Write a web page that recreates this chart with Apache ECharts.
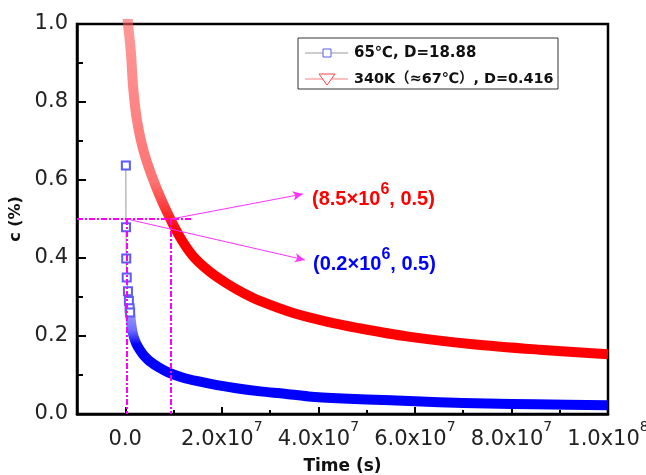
<!DOCTYPE html>
<html><head><meta charset="utf-8">
<script src="https://cdn.jsdelivr.net/npm/echarts@6/dist/echarts.min.js"></script>
<style>html,body{margin:0;padding:0;background:#fff}#c{width:646px;height:475px}</style>
</head><body><div id="c"></div>
<script>
// ---- data ----
const seriesNames = ['65℃, D=18.88', '340K（≈67℃）, D=0.416'];
// 65 ℃ : first discrete points (squares)
const blueTimeA = [0.12e6, 0.15e6, 0.2e6, 0.3e6, 0.55e6, 0.75e6, 0.9e6, 1.0e6];
const blueConcA = [0.637, 0.479, 0.399, 0.350, 0.315, 0.290, 0.271, 0.260];
// 65 ℃ : dense part (overlapping squares form a band)
const blueTimeB = [1.0e6, 1.3e6, 1.7e6, 2.3e6, 3.0e6, 4.0e6, 5.0e6, 7.0e6, 9.0e6, 12e6, 15e6, 19e6, 23e6, 28e6, 33e6, 38e6, 45e6, 55e6, 65e6, 75e6, 85e6, 100e6];
const blueConcB = [0.260, 0.225, 0.200, 0.180, 0.165, 0.148, 0.136, 0.119, 0.106, 0.093, 0.084, 0.074, 0.066, 0.058, 0.052, 0.045, 0.040, 0.035, 0.030, 0.027, 0.025, 0.0225];
// 340 K
const redTime = [0.35e6, 0.58e6, 1.18e6, 1.62e6, 2.41e6, 3.93e6, 6.34e6, 9.1e6, 11.5e6, 14.1e6, 17.5e6, 21.0e6, 24.5e6, 27.9e6, 34.8e6, 41.7e6, 48.0e6, 58.3e6, 72.0e6, 85.8e6, 100e6];
const redConc = [1.04, 1.0, 0.925, 0.839, 0.754, 0.668, 0.583, 0.506, 0.450, 0.404, 0.365, 0.335, 0.310, 0.290, 0.259, 0.237, 0.221, 0.199, 0.179, 0.165, 0.153];
// annotation points
const halfConc = 0.5;
const blueHalfTime = 0.3e6;
const redHalfTime = 9.5e6;
const hLineEnd = 13.8e6;
const redLabelAnchor = [36.8e6, 0.564];
const blueLabelAnchor = [37.2e6, 0.395];
const redLabel = ['(8.5×10', '6', ', 0.5)'];
const blueLabel = ['(0.2×10', '6', ', 0.5)'];
// ticks
const xTickValues = [0, 2e7, 4e7, 6e7, 8e7, 1e8];
const xTickMant = ['0.0', '2.0x10', '4.0x10', '6.0x10', '8.0x10', '1.0x10'];
const xTickExp = ['', '7', '7', '7', '7', '8'];
const xMinorTicks = [1e7, 3e7, 5e7, 7e7, 9e7];

const zip = (a, b) => a.map((v, i) => [v, b[i]]);
const FT = '"DejaVu Sans", "Noto Sans CJK SC", sans-serif';
const FA = '"Liberation Sans", Arial, "Noto Sans CJK SC", sans-serif';

const chart = echarts.init(document.getElementById('c'), null, {renderer: 'canvas'});
const dash = {color: '#ff00ff', width: 2, type: [6, 2, 2, 2]};
const arr = {color: '#ff33ff', width: 1, type: 'solid'};

chart.setOption({
  animation: false,
  backgroundColor: '#fff',
  grid: {left: 77, right: 38, top: 24, bottom: 61, containLabel: false, outerBoundsMode: 'none',
         show: true, borderColor: '#000', borderWidth: 2.5, backgroundColor: 'transparent'},
  xAxis: [{
    type: 'value', min: -1e7, max: 1e8, position: 'bottom',
    axisLine: {onZero: false, lineStyle: {color: '#000', width: 2.5}},
    splitLine: {show: false},
    axisTick: {inside: true, length: 7, customValues: xTickValues, lineStyle: {color: '#000', width: 2}},
    axisLabel: {
      customValues: xTickValues, margin: 6, color: '#222', hideOverlap: false,
      formatter: function (v) {
        let i = xTickValues.findIndex(t => Math.abs(t - v) < 1);
        if (i < 0) return '';
        return '{n|' + xTickMant[i] + '}' + (xTickExp[i] ? '{s|' + xTickExp[i] + '}' : '');
      },
      rich: {
        n: {fontFamily: FT, fontSize: 21, lineHeight: 30, verticalAlign: 'bottom', color: '#222'},
        s: {fontFamily: FT, fontSize: 14, lineHeight: 14, verticalAlign: 'top', color: '#222'}
      }
    },
    name: 'Time (s)', nameLocation: 'middle', nameGap: 44,
    nameTextStyle: {fontFamily: FT, fontWeight: 'bold', fontSize: 17, color: '#111'}
  }, {
    type: 'value', min: -1e7, max: 1e8, position: 'bottom', offset: 0,
    axisLine: {show: false, onZero: false}, splitLine: {show: false}, axisLabel: {show: false},
    axisTick: {show: true, inside: true, length: 4, customValues: xMinorTicks, lineStyle: {color: '#000', width: 2}}
  }],
  yAxis: {
    type: 'value', min: 0, max: 1, interval: 0.2,
    axisLine: {show: true, onZero: false, lineStyle: {color: '#000', width: 2.5}},
    splitLine: {show: false},
    axisTick: {inside: true, length: 9, lineStyle: {color: '#000', width: 2}},
    minorTick: {show: true, splitNumber: 2, length: 6, lineStyle: {color: '#000', width: 2}},
    axisLabel: {fontFamily: FT, fontSize: 21, color: '#222', margin: 9, formatter: v => v.toFixed(1)},
    name: 'c (%)', nameLocation: 'middle', nameGap: 52,
    nameTextStyle: {fontFamily: FT, fontWeight: 'bold', fontSize: 16, color: '#111'}
  },
  series: [
    {
      name: seriesNames[1], type: 'line', xAxisIndex: 0, data: zip(redTime, redConc),
      smooth: 0.3, showSymbol: false, symbol: 'none', clip: true, z: 3,
      lineStyle: {width: 10, cap: 'butt', join: 'round', color: new echarts.graphic.LinearGradient(0, 0, 0, 1, [
        {offset: 0, color: 'rgba(255,90,90,0.6)'},
        {offset: 0.5, color: 'rgba(255,60,60,0.72)'},
        {offset: 0.64, color: '#ff0000'},
        {offset: 1, color: '#ff0000'}
      ])}
    },
    {
      name: seriesNames[0] + ' band', type: 'line', xAxisIndex: 0, data: zip(blueTimeB, blueConcB),
      smooth: 0.3, showSymbol: false, symbol: 'none', clip: true, z: 3,
      lineStyle: {width: 10, cap: 'butt', join: 'round', color: new echarts.graphic.LinearGradient(0, 0, 0, 1, [
        {offset: 0, color: 'rgba(90,90,255,0.55)'},
        {offset: 0.22, color: 'rgba(60,60,255,0.75)'},
        {offset: 0.36, color: '#0000ff'},
        {offset: 1, color: '#0000ff'}
      ])}
    },
    {
      name: seriesNames[0], type: 'line', xAxisIndex: 0, data: zip(blueTimeA, blueConcA),
      symbol: 'emptyRect', symbolSize: 8, showSymbol: true, z: 4,
      lineStyle: {width: 1, color: '#999'},
      itemStyle: {color: '#5b5bff', borderColor: '#5b5bff', borderWidth: 1},
      markLine: {
        silent: true, symbol: ['none', 'none'], label: {show: false}, animation: false,
        data: [
          [{coord: [-1e7, halfConc], lineStyle: dash}, {coord: [hLineEnd, halfConc]}],
          [{coord: [blueHalfTime, halfConc], lineStyle: dash}, {coord: [blueHalfTime, 0]}],
          [{coord: [redHalfTime, halfConc], lineStyle: dash}, {coord: [redHalfTime, 0]}],
          [{coord: [redHalfTime, halfConc], lineStyle: arr, symbol: 'none'}, {coord: redLabelAnchor, symbol: 'arrow', symbolSize: [7, 10]}],
          [{coord: [blueHalfTime, halfConc], lineStyle: arr, symbol: 'none'}, {coord: blueLabelAnchor, symbol: 'arrow', symbolSize: [7, 10]}]
        ]
      }
    }
  ],
  graphic: [
    {type: 'text', x: 312, y: 195.5, z: 10, style: {
      text: '{a|' + redLabel[0] + '}{s|' + redLabel[1] + '}{a|' + redLabel[2] + '}', verticalAlign: 'middle', fill: '#ff0000',
      rich: {a: {fontFamily: FA, fontWeight: 'bold', fontSize: 20, lineHeight: 28, verticalAlign: 'bottom', fill: '#ff0000'},
             s: {fontFamily: FA, fontWeight: 'bold', fontSize: 16, lineHeight: 16, verticalAlign: 'top', fill: '#ff0000'}}}},
    {type: 'text', x: 313, y: 260.5, z: 10, style: {
      text: '{a|' + blueLabel[0] + '}{s|' + blueLabel[1] + '}{a|' + blueLabel[2] + '}', verticalAlign: 'middle', fill: '#0000ff',
      rich: {a: {fontFamily: FA, fontWeight: 'bold', fontSize: 20, lineHeight: 28, verticalAlign: 'bottom', fill: '#0000ff'},
             s: {fontFamily: FA, fontWeight: 'bold', fontSize: 16, lineHeight: 16, verticalAlign: 'top', fill: '#0000ff'}}}},
    // legend
    {type: 'rect', z: 10, shape: {x: 298, y: 38, width: 260, height: 51}, style: {fill: '#fff', stroke: '#333', lineWidth: 1}},
    {type: 'line', z: 11, shape: {x1: 305, y1: 53, x2: 348, y2: 53}, style: {stroke: '#999', lineWidth: 1}},
    {type: 'rect', z: 12, shape: {x: 323, y: 49, width: 8, height: 8}, style: {fill: '#fff', stroke: '#5b5bff', lineWidth: 1}},
    {type: 'text', z: 12, x: 354, y: 53, style: {text: seriesNames[0], verticalAlign: 'middle', fill: '#111', font: 'bold 15px ' + FT}},
    {type: 'line', z: 11, shape: {x1: 305, y1: 79, x2: 348, y2: 79}, style: {stroke: '#ff8080', lineWidth: 1}},
    {type: 'polygon', z: 12, shape: {points: [[319, 74], [335, 74], [327, 85]]}, style: {fill: '#fff', stroke: '#ff4040', lineWidth: 1}},
    {type: 'text', z: 12, x: 354, y: 79, style: {text: seriesNames[1], verticalAlign: 'middle', fill: '#111', font: 'bold 14.4px ' + FT}}
  ]
});
</script></body></html>
